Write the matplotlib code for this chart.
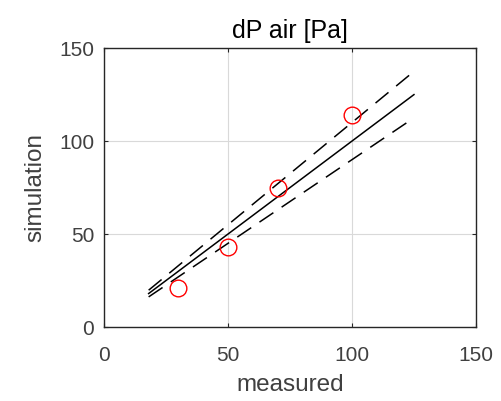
import numpy as np
import matplotlib
matplotlib.use("Agg")
import matplotlib.pyplot as plt

# measured vs simulated air pressure drop
measured = [30, 50, 70, 100]
simulation = [21, 43, 75, 114]

# parity line and +/-10 % band
line_x = np.array([18, 125])
band = 0.10

plt.rcParams['font.family'] = ['Liberation Sans', 'DejaVu Sans']

fig = plt.figure(figsize=(5.01, 4.01), dpi=100)
ax = fig.add_axes([0.2076, 0.1845, 0.7424, 0.6955])

ax.plot(line_x, line_x, color='black', lw=1.1)
ax.plot(line_x, line_x * (1 + band), color='black', lw=1.1, dashes=(11, 6.5))
ax.plot(line_x, line_x * (1 - band), color='black', lw=1.1, dashes=(11, 6.5))
ax.plot(measured, simulation, 'o', mfc='none', mec='red', ms=12, mew=1.0)

ax.set_xlim(0, 150)
ax.set_ylim(0, 150)
ax.set_xticks([0, 50, 100, 150])
ax.set_yticks([0, 50, 100, 150])
ax.grid(True, color='#d9d9d9', lw=0.8)
ax.set_axisbelow(True)

ax.tick_params(direction='in', length=3, width=0.8, colors='#262626',
               labelcolor='#404040', labelsize=15, top=True, right=True)
ax.tick_params(axis='x', pad=14)
ax.tick_params(axis='y', pad=7)
for s in ax.spines.values():
    s.set_color('#262626')
    s.set_linewidth(1.0)

ax.set_title('dP air [Pa]', fontsize=18, color='black', pad=7)
ax.set_xlabel('measured', fontsize=17.5, color='#404040', labelpad=6)
ax.set_ylabel('simulation', fontsize=17.5, color='#404040', labelpad=9)

fig.savefig('out.png', dpi=100)
